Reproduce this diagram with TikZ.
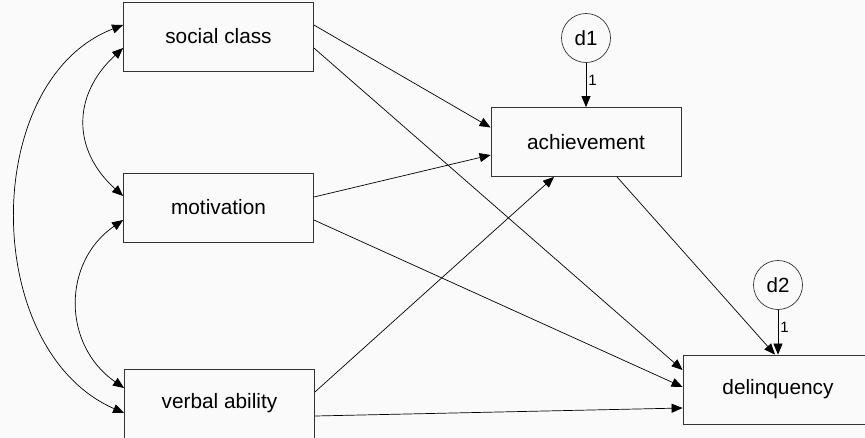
\documentclass[tikz,border=0pt]{standalone}
\usepackage{fontspec}
\setmainfont{Liberation Sans}
\usetikzlibrary{arrows.meta,calc}
\begin{document}
\begin{tikzpicture}[x=1pt,y=-1pt,
  var/.style={draw=black!80,line width=0.8pt,minimum width=190pt,minimum height=69pt,inner sep=0pt,font=\fontsize{20.8}{24}\selectfont},
  err/.style={draw=black!80,line width=0.7pt,circle,minimum size=49pt,inner sep=0pt,font=\fontsize{20.5}{24}\selectfont},
  path/.style={line width=0.7pt,-{Triangle[length=11pt,width=9pt]}},
  cov/.style={line width=0.7pt,{Triangle[length=11pt,width=9pt]}-{Triangle[length=11pt,width=9pt]}},
  lab/.style={font=\fontsize{15}{17}\selectfont,inner sep=2pt}]
\fill[black!2] (0,0) rectangle (865,437);
\useasboundingbox (0,0) rectangle (865,437);
\node[var] (sc) at (218.5,36.5) {social class};
\node[var] (mo) at (218.5,207.5) {motivation};
\node[var] (va) at (219.5,403.5) {verbal ability};
\node[var] (ac) at (586,142) {achievement};
\node[var] (de) at (778,389.5) {delinquency};
\node[err] (d1) at (586,38) {d1};
\node[err] (d2) at (778,285) {d2};
% paths
\draw[path] ($(sc.east)+(0,-11.5)$) -- ($(ac.west)+(0,-14.5)$);
\draw[path] ($(sc.east)+(0,11.5)$) -- ($(de.west)+(0,-19.5)$);
\draw[path] ($(mo.east)+(0,-10.5)$) -- ($(ac.west)+(0,13)$);
\draw[path] ($(mo.east)+(0,12.5)$) -- ($(de.west)+(0,-2.5)$);
\draw[path] ($(va.east)+(0,-11.5)$) -- ($(ac.south)+(-32,0)$);
\draw[path] ($(va.east)+(0,12.5)$) -- ($(de.west)+(0,18.5)$);
\draw[path] ($(ac.south)+(31,0)$) -- ($(de.north)+(-3,0)$);
\draw[path] (d1) -- node[lab,right,pos=0.4]{1} (ac);
\draw[path] (d2) -- node[lab,right,pos=0.4]{1} (de);
% covariances
\draw[cov] ($(sc.west)+(0,11.5)$) .. controls (72,95) and (72,150) .. ($(mo.west)+(0,-11.5)$);
\draw[cov] ($(mo.west)+(0,12.5)$) .. controls (62,262) and (62,345) .. ($(va.west)+(0,-15.5)$);
\draw[cov] ($(sc.west)+(0,-11.5)$) .. controls (-20,80) and (-20,350) .. ($(va.west)+(0,9.5)$);
\end{tikzpicture}
\end{document}
